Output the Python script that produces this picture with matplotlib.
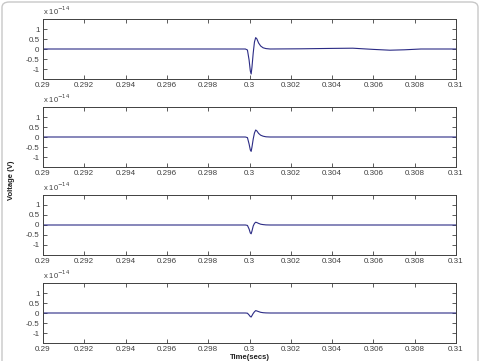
import matplotlib
matplotlib.use("Agg")
import matplotlib.pyplot as plt
from matplotlib.patches import FancyBboxPatch

plt.rcParams['font.family'] = ['Liberation Sans', 'DejaVu Sans']

# time points (s) and voltages (units of 1e-14 V) for each panel
t1 = [0.29, 0.2998, 0.29990, 0.29998, 0.30004, 0.30008, 0.30012, 0.30018, 0.30024,
      0.30030, 0.30036, 0.30044, 0.30054, 0.30066, 0.30080, 0.3010, 0.3025, 0.3040,
      0.3050, 0.3060, 0.3068, 0.3075, 0.3083, 0.31]
v1 = [0, 0, -0.05, -0.55, -1.1, -1.25, -0.9, -0.2, 0.35,
      0.57, 0.5, 0.3, 0.15, 0.06, 0.02, 0, 0.01, 0.03,
      0.04, -0.02, -0.06, -0.04, 0, 0]

t2 = [0.29, 0.2998, 0.29990, 0.29998, 0.30004, 0.30008, 0.30012, 0.30018, 0.30024,
      0.30030, 0.30036, 0.30044, 0.30054, 0.30066, 0.30080, 0.3010, 0.31]
v2 = [0, 0, -0.03, -0.35, -0.65, -0.72, -0.5, -0.1, 0.2,
      0.35, 0.3, 0.18, 0.09, 0.04, 0.01, 0, 0]

t3 = [0.29, 0.2998, 0.29990, 0.29998, 0.30004, 0.30008, 0.30012, 0.30018, 0.30024,
      0.30030, 0.30036, 0.30044, 0.30054, 0.30066, 0.30080, 0.3010, 0.31]
v3 = [0, 0, -0.02, -0.2, -0.4, -0.44, -0.3, -0.05, 0.08,
      0.14, 0.12, 0.08, 0.04, 0.02, 0.005, 0, 0]

t4 = [0.29, 0.2998, 0.29990, 0.29998, 0.30004, 0.30008, 0.30012, 0.30018, 0.30024,
      0.30030, 0.30036, 0.30044, 0.30054, 0.30066, 0.30080, 0.3010, 0.31]
v4 = [0, 0, -0.01, -0.1, -0.18, -0.2, -0.13, -0.02, 0.06,
      0.12, 0.1, 0.07, 0.035, 0.015, 0.005, 0, 0]

series = [(t1, v1), (t2, v2), (t3, v3), (t4, v4)]
xticks = [0.29, 0.292, 0.294, 0.296, 0.298, 0.3, 0.302, 0.304, 0.306, 0.308, 0.31]
xticklabels = ['0.29', '0.292', '0.294', '0.296', '0.298', '0.3', '0.302', '0.304',
               '0.306', '0.308', '0.31']
yticks = [-1, -0.5, 0, 0.5, 1]
yticklabels = ['-1', '-0.5', '0', '0.5', '1']

W, H = 483, 361
fig = plt.figure(figsize=(W / 100, H / 100), dpi=100)
fig.patch.set_facecolor('white')

# rounded frame around the figure
frame = FancyBboxPatch((2 / W, -10 / H), 476 / W, (H + 8) / H,
                       boxstyle="round,pad=0,rounding_size=0.015",
                       transform=fig.transFigure, fill=False,
                       edgecolor='#c8c8c8', linewidth=1.0)
fig.patches.append(frame)

tops = [19, 107, 195, 283]
ax_h = 60
left, right = 43, 456
line_color = '#2b2b85'
gray = '#404040'

for (t, v), top in zip(series, tops):
    ax = fig.add_axes([left / W, (H - top - ax_h) / H, (right - left) / W, ax_h / H])
    ax.plot(t, v, color=line_color, linewidth=0.8)
    ax.set_xlim(0.29, 0.31)
    ax.set_ylim(-1.5, 1.5)
    ax.set_xticks(xticks)
    ax.set_xticklabels(xticklabels)
    ax.set_yticks(yticks)
    ax.set_yticklabels(yticklabels)
    ax.tick_params(direction='in', length=3, width=0.6, labelsize=5.8,
                   top=True, right=True, colors=gray, pad=2.5)
    for s in ax.spines.values():
        s.set_color(gray)
        s.set_linewidth(0.7)
    ax.text(0.0, 1.03, r'x 10$^{-14}$', transform=ax.transAxes, fontsize=5.5,
            color=gray, ha='left', va='bottom')

fig.text(12 / W, 0.5, 'Voltage (V)', rotation=90, fontsize=5.5, fontweight='bold',
         ha='center', va='center', color='#202020')
fig.text((left + right) / 2 / W, 1 - 357.5 / H, 'Time(secs)', fontsize=5.5,
         fontweight='bold', ha='center', va='center', color='#202020')

fig.savefig('out.png', dpi=100)
